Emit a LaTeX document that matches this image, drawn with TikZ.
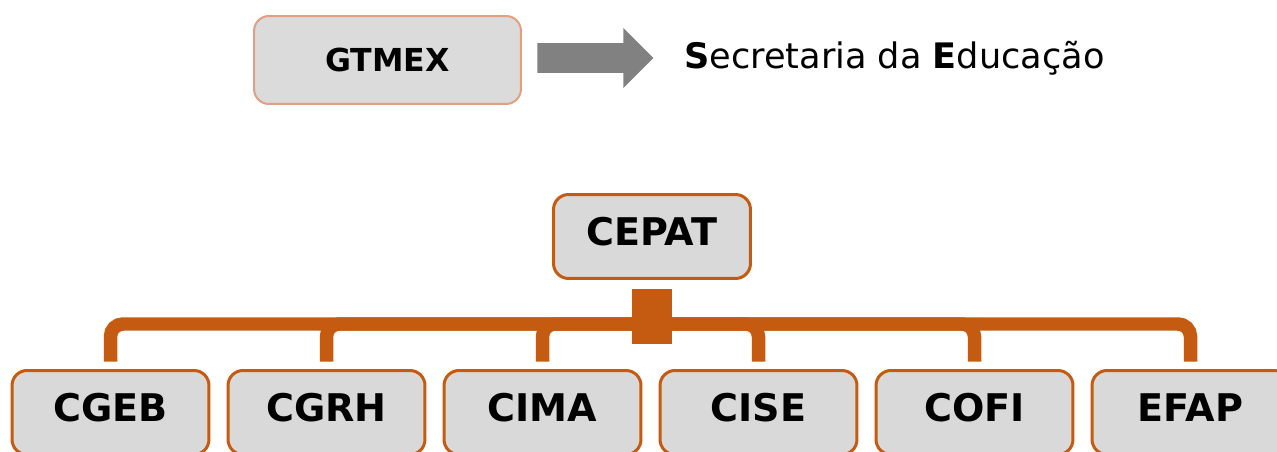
\documentclass[tikz,border=0pt]{standalone}
\usepackage{fontspec}
\setmainfont{DejaVu Sans}
\usetikzlibrary{positioning,shapes.arrows}
\definecolor{laranja}{HTML}{C55A11}
\definecolor{cinza}{HTML}{D9D9D9}
\definecolor{salmao}{HTML}{E39F80}
\definecolor{seta}{HTML}{818181}
\tikzstyle{caixa}=[rectangle, rounded corners=0.3cm, draw=laranja, line width=0.06cm, fill=cinza, minimum width=3.94cm, minimum height=1.68cm, text depth=0.2cm, font=\bfseries\fontsize{21.7}{25}\selectfont]
\tikzstyle{topo}=[rectangle, rounded corners=0.3cm, draw=salmao, line width=0.04cm, fill=cinza!95!white, minimum width=5.34cm, minimum height=1.76cm, font=\bfseries\fontsize{18}{21}\selectfont]
\tikzstyle{ramo}=[draw=laranja, line width=0.27cm, rounded corners=0.25cm]

\begin{document}
\begin{tikzpicture}[x=0.02cm, y=-0.02cm]
  \clip (0,0) rectangle (1277,452);
  \useasboundingbox (0,0) rectangle (1277,452);
  \node[topo] (gtmex) at (387.5,60) {GTMEX};
  \node[single arrow, fill=seta, inner sep=0.29cm, minimum height=2.32cm, single arrow head extend=0.3cm, anchor=tail] (flecha) at (537,58) {};
  \node[right=0.6cm of flecha, inner sep=0, font=\fontsize{20}{24}\selectfont] (sec) {\textbf{S}ecretaria da \textbf{E}ducação};
  \node[caixa] (cepat) at (652,236.5) {CEPAT};
  \node[fill=laranja, minimum width=0.8cm, minimum height=1.1cm, inner sep=0, below=0.17cm of cepat] (hub) {};
  \coordinate (bus) at (652,324);
  \foreach \nome [count=\i] in {CGEB,CGRH,CIMA,CISE,COFI,EFAP}
    \node[caixa] (c\i) at ({110.5+216*(\i-1)},412.5) {\nome};
  \foreach \i in {1,...,6}
    \draw[ramo, shorten >=0.15cm] (bus) -| (c\i.north);
\end{tikzpicture}
\end{document}
